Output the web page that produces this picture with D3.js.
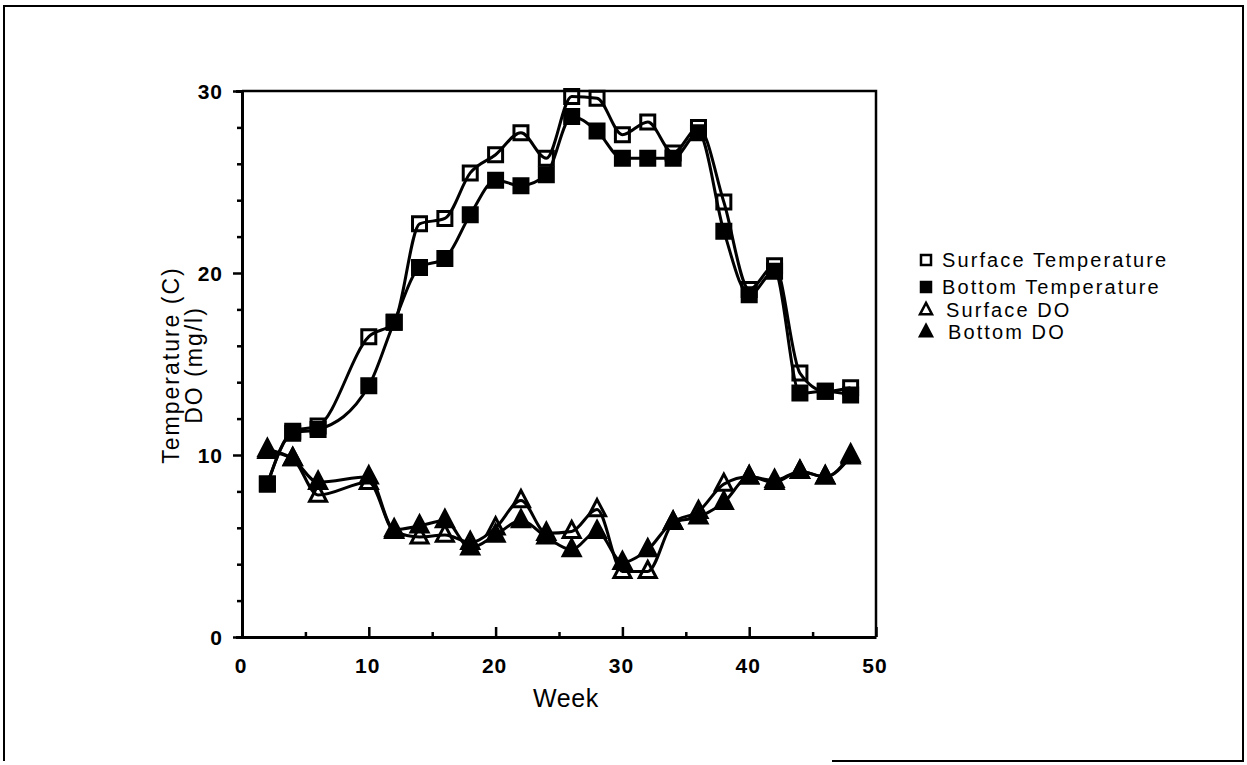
<!DOCTYPE html>
<html>
<head>
<meta charset="utf-8">
<script src="https://cdn.jsdelivr.net/npm/d3@7"></script>
<style>
  body { margin: 0; background: #fff; }
  svg text { font-family: "Liberation Sans", Arial, Helvetica, sans-serif; fill: #000; }
</style>
</head>
<body>
<div id="chart"></div>
<script>
// data (week 8 has no sample)
var weeks = [2, 4, 6, 10, 12, 14, 16, 18, 20, 22, 24, 26, 28, 30, 32, 34, 36, 38, 40, 42, 44, 46, 48];
var surfaceTemp = [8.4, 11.3, 11.6, 16.5, 17.3, 22.7, 23.0, 25.5, 26.5, 27.7, 26.3, 29.7, 29.6, 27.6, 28.3, 26.6, 28.0, 23.9, 19.1, 20.4, 14.5, 13.5, 13.7];
var bottomTemp = [8.4, 11.2, 11.4, 13.8, 17.3, 20.3, 20.8, 23.2, 25.1, 24.8, 25.4, 28.6, 27.8, 26.3, 26.3, 26.3, 27.7, 22.3, 18.8, 20.1, 13.4, 13.5, 13.3];
var surfaceDO = [10.2, 9.8, 7.8, 8.5, 5.8, 5.5, 5.6, 5.2, 6.0, 7.5, 5.7, 5.8, 7.0, 3.6, 3.6, 6.3, 6.9, 8.4, 8.8, 8.6, 9.1, 8.8, 9.9];
var bottomDO = [10.3, 9.8, 8.5, 8.8, 5.9, 6.1, 6.4, 4.9, 5.6, 6.4, 5.5, 4.8, 5.8, 4.1, 4.8, 6.3, 6.6, 7.4, 8.8, 8.5, 9.1, 8.8, 10.0];
var seriesNames = ["Surface Temperature", "Bottom Temperature", "Surface DO", "Bottom DO"];
var xTicks = [0, 10, 20, 30, 40, 50];
var yTicks = [0, 10, 20, 30];

var W = 1247, H = 765;
var svg = d3.select("#chart").append("svg")
    .attr("width", W)
    .attr("height", H);

// outer page frame (bottom edge only partly printed)
svg.append("path")
    .attr("d", "M832,761 L1243,761 L1243,6 L4,6 L4,761")
    .attr("fill", "none")
    .attr("stroke", "#000")
    .attr("stroke-width", 2);

var x = d3.scaleLinear().domain([0, 50]).range([242, 876]);
var y = d3.scaleLinear().domain([0, 30]).range([637, 91]);

// plot box: top and right edges
svg.append("path")
    .attr("d", "M" + x(0) + "," + y(30) + " L" + x(50) + "," + y(30) + " L" + x(50) + "," + y(0))
    .attr("fill", "none")
    .attr("stroke", "#000")
    .attr("stroke-width", 2.5);

// left axis, ticks outward, minor every 2
var gy = svg.append("g")
    .attr("transform", "translate(" + x(0) + ",0)")
    .call(d3.axisLeft(y).tickValues(d3.range(0, 31, 2)).tickSize(6).tickFormat(""));
gy.selectAll(".tick line")
    .attr("x2", function(d) { return d % 10 === 0 ? -9 : -5; })
    .attr("stroke-width", 2.5);
gy.select(".domain").attr("stroke-width", 3);
svg.selectAll(".ylab")
  .data(yTicks)
  .enter().append("text")
    .attr("x", x(0) - 19)
    .attr("y", function(d) { return y(d) + 8; })
    .attr("text-anchor", "end")
    .style("font-size", "21px")
    .style("font-weight", "bold")
    .style("letter-spacing", "1px")
    .text(function(d) { return d; });

// bottom axis, ticks inward, minor every 5
var gx = svg.append("g")
    .attr("transform", "translate(0," + y(0) + ")")
    .call(d3.axisBottom(x).tickValues(d3.range(0, 51, 5)).tickSize(0).tickFormat(""));
gx.selectAll(".tick line")
    .attr("y2", function(d) { return d % 10 === 0 ? -10 : -5; })
    .attr("stroke-width", 2.5);
gx.select(".domain").attr("stroke-width", 3);
svg.selectAll(".xlab")
  .data(xTicks)
  .enter().append("text")
    .attr("x", function(d) { return x(d) - 1; })
    .attr("y", y(0) + 36)
    .attr("text-anchor", "middle")
    .style("font-size", "21px")
    .style("font-weight", "bold")
    .style("letter-spacing", "1px")
    .text(function(d) { return d; });

// axis titles
svg.append("text")
    .attr("x", 566)
    .attr("y", 707)
    .attr("text-anchor", "middle")
    .style("font-size", "25px")
    .style("letter-spacing", "0.6px")
    .text("Week");
svg.append("text")
    .attr("transform", "translate(179,365)rotate(-90)")
    .attr("text-anchor", "middle")
    .style("font-size", "23px")
    .style("letter-spacing", "2px")
    .text("Temperature (C)");
svg.append("text")
    .attr("transform", "translate(202,365)rotate(-90)")
    .attr("text-anchor", "middle")
    .style("font-size", "23px")
    .style("letter-spacing", "2px")
    .text("DO (mg/l)");

var series = [
  { name: seriesNames[0], values: surfaceTemp, shape: "square", filled: false },
  { name: seriesNames[1], values: bottomTemp, shape: "square", filled: true },
  { name: seriesNames[2], values: surfaceDO, shape: "triangle", filled: false },
  { name: seriesNames[3], values: bottomDO, shape: "triangle", filled: true }
];

var line = d3.line()
    .x(function(d) { return x(d[0]); })
    .y(function(d) { return y(d[1]); })
    .curve(d3.curveMonotoneX);

function markerPath(shape, s) {
  if (shape === "square") {
    return "M" + (-s / 2) + "," + (-s / 2) + "h" + s + "v" + s + "h" + (-s) + "Z";
  }
  var h = s * 0.95;
  return "M0," + (-h * 0.62) + "L" + (s / 2) + "," + (h * 0.38) + "L" + (-s / 2) + "," + (h * 0.38) + "Z";
}

series.forEach(function(s) {
  var pts = weeks.map(function(w, i) { return [w, s.values[i]]; });
  svg.append("path")
      .datum(pts)
      .attr("d", line)
      .attr("fill", "none")
      .attr("stroke", "#000")
      .attr("stroke-width", 3);
  svg.selectAll(".pt")
    .data(pts)
    .enter().append("path")
      .attr("transform", function(d) { return "translate(" + x(d[0]) + "," + y(d[1]) + ")"; })
      .attr("d", markerPath(s.shape, s.shape === "square" ? 14 : 17))
      .attr("fill", s.filled ? "#000" : "none")
      .attr("stroke", "#000")
      .attr("stroke-width", 3)
      .attr("stroke-linejoin", "miter");
});

// legend
var legendY = [260, 287, 310, 332];
var legendX = [942, 942, 946, 948];
var leg = svg.selectAll(".leg")
  .data(series)
  .enter().append("g")
    .attr("transform", function(d, i) { return "translate(0," + legendY[i] + ")"; });
leg.append("path")
    .attr("transform", "translate(926,0)")
    .attr("d", function(d) { return markerPath(d.shape, d.shape === "square" ? 10 : 12); })
    .attr("fill", function(d) { return d.filled ? "#000" : "none"; })
    .attr("stroke", "#000")
    .attr("stroke-width", 2.5);
leg.append("text")
    .attr("x", function(d, i) { return legendX[i]; })
    .attr("y", 7)
    .style("font-size", "20px")
    .style("letter-spacing", "2.1px")
    .text(function(d) { return d.name; });
</script>
</body>
</html>
